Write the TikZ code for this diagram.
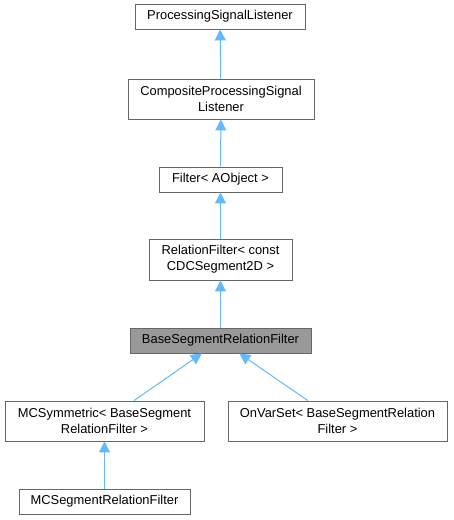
\documentclass[tikz,border=0pt]{standalone}
\usepackage{fontspec}
\setmainfont{Liberation Sans}
\usetikzlibrary{arrows.meta}
\definecolor{edgeblue}{HTML}{63B8FF}
\definecolor{boxgray}{HTML}{666666}
\definecolor{fillgray}{HTML}{999999}
\begin{document}
\begin{tikzpicture}[x=1pt,y=-1pt,
  cls/.style={draw=boxgray,line width=0.9pt,fill=white,inner sep=0pt,align=center,
    font=\fontsize{12.9}{16}\selectfont,text=black},
  inh/.style={draw=edgeblue,line width=1pt,-{Triangle[length=11pt,width=11pt]}}]
\useasboundingbox (0,0) rectangle (453,520);
\node[cls,minimum width=170pt,minimum height=25pt] (psl) at (220,16.5) {ProcessingSignalListener};
\node[cls,minimum width=186pt,minimum height=40pt] (cpsl) at (221,99) {CompositeProcessingSignal\\Listener};
\node[cls,minimum width=123pt,minimum height=25pt] (flt) at (220.5,179.5) {Filter< AObject >};
\node[cls,minimum width=143pt,minimum height=41pt] (rf) at (220.5,259.5) {RelationFilter< const\\CDCSegment2D >};
\node[cls,fill=fillgray,minimum width=181pt,minimum height=25pt] (bsrf) at (220.5,340.5) {BaseSegmentRelationFilter};
\node[cls,minimum width=199pt,minimum height=40pt] (mcs) at (104.5,421) {MCSymmetric< BaseSegment\\RelationFilter >};
\node[cls,minimum width=219pt,minimum height=40pt] (ovs) at (337.5,421) {OnVarSet< BaseSegmentRelation\\Filter >};
\node[cls,minimum width=171pt,minimum height=25pt] (mcsrf) at (104.5,501.5) {MCSegmentRelationFilter};
\draw[inh] (cpsl) -- (psl);
\draw[inh] (flt) -- (cpsl);
\draw[inh] (rf) -- (flt);
\draw[inh] (bsrf) -- (rf);
\draw[inh] (mcs) -- (bsrf);
\draw[inh] (ovs) -- (bsrf);
\draw[inh] (mcsrf) -- (mcs);
\end{tikzpicture}
\end{document}
